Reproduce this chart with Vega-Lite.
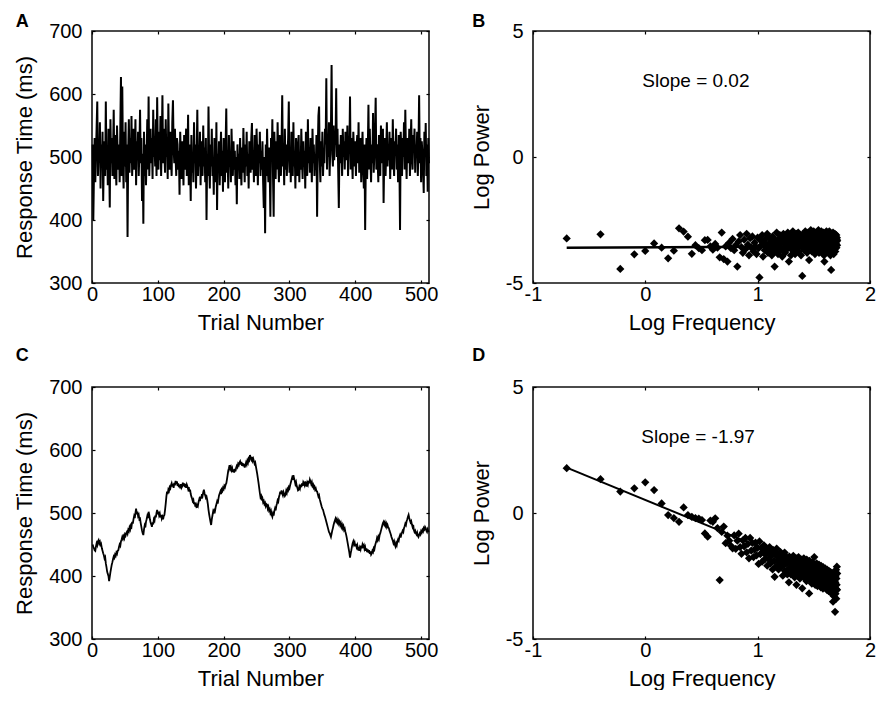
{
"$schema":"https://vega.github.io/schema/vega-lite/v6.json",
"background":"white",
"padding":{"left":12,"top":12,"right":0,"bottom":0},
"bounds":"flush",
"columns":2,
"spacing":104,
"datasets":{
"ts":[
{"t":1,"a":520,"c":450},{"t":2,"a":400,"c":446},{"t":3,"a":475,"c":444},{"t":4,"a":530,"c":441},{"t":5,"a":460,"c":440},{"t":6,"a":505,"c":447},{"t":7,"a":545,"c":452},{"t":8,"a":588,"c":449},{"t":9,"a":470,"c":455},{"t":10,"a":510,"c":457},
{"t":11,"a":495,"c":452},{"t":12,"a":555,"c":454},{"t":13,"a":450,"c":447},{"t":14,"a":520,"c":450},{"t":15,"a":485,"c":444},{"t":16,"a":540,"c":440},{"t":17,"a":430,"c":436},{"t":18,"a":500,"c":433},{"t":19,"a":525,"c":428},{"t":20,"a":470,"c":430},
{"t":21,"a":588,"c":420},{"t":22,"a":480,"c":414},{"t":23,"a":515,"c":407},{"t":24,"a":455,"c":403},{"t":25,"a":545,"c":400},{"t":26,"a":500,"c":392},{"t":27,"a":420,"c":399},{"t":28,"a":560,"c":406},{"t":29,"a":490,"c":412},{"t":30,"a":530,"c":418},
{"t":31,"a":470,"c":422},{"t":32,"a":510,"c":427},{"t":33,"a":575,"c":431},{"t":34,"a":465,"c":429},{"t":35,"a":535,"c":434},{"t":36,"a":490,"c":432},{"t":37,"a":455,"c":437},{"t":38,"a":550,"c":435},{"t":39,"a":505,"c":440},{"t":40,"a":480,"c":441},
{"t":41,"a":520,"c":446},{"t":42,"a":460,"c":450},{"t":43,"a":545,"c":448},{"t":44,"a":627,"c":455},{"t":45,"a":470,"c":458},{"t":46,"a":612,"c":462},{"t":47,"a":500,"c":459},{"t":48,"a":450,"c":463},{"t":49,"a":540,"c":460},{"t":50,"a":485,"c":466},
{"t":51,"a":555,"c":464},{"t":52,"a":460,"c":468},{"t":53,"a":520,"c":470},{"t":54,"a":373,"c":467},{"t":55,"a":510,"c":473},{"t":56,"a":560,"c":471},{"t":57,"a":475,"c":477},{"t":58,"a":530,"c":474},{"t":59,"a":490,"c":480},{"t":60,"a":565,"c":478},
{"t":61,"a":470,"c":486},{"t":62,"a":515,"c":483},{"t":63,"a":545,"c":490},{"t":64,"a":480,"c":495},{"t":65,"a":500,"c":492},{"t":66,"a":560,"c":500},{"t":67,"a":455,"c":507},{"t":68,"a":525,"c":498},{"t":69,"a":495,"c":502},{"t":70,"a":540,"c":495},
{"t":71,"a":470,"c":497},{"t":72,"a":510,"c":490},{"t":73,"a":575,"c":491},{"t":74,"a":490,"c":484},{"t":75,"a":530,"c":478},{"t":76,"a":430,"c":472},{"t":77,"a":505,"c":468},{"t":78,"a":394,"c":465},{"t":79,"a":540,"c":474},{"t":80,"a":470,"c":480},
{"t":81,"a":520,"c":477},{"t":82,"a":455,"c":486},{"t":83,"a":500,"c":490},{"t":84,"a":560,"c":495},{"t":85,"a":480,"c":492},{"t":86,"a":596,"c":502},{"t":87,"a":470,"c":497},{"t":88,"a":515,"c":490},{"t":89,"a":545,"c":485},{"t":90,"a":490,"c":482},
{"t":91,"a":530,"c":478},{"t":92,"a":465,"c":485},{"t":93,"a":575,"c":482},{"t":94,"a":500,"c":490},{"t":95,"a":520,"c":488},{"t":96,"a":485,"c":496},{"t":97,"a":560,"c":493},{"t":98,"a":470,"c":500},{"t":99,"a":595,"c":505},{"t":100,"a":510,"c":498},
{"t":101,"a":480,"c":502},{"t":102,"a":540,"c":496},{"t":103,"a":495,"c":499},{"t":104,"a":565,"c":493},{"t":105,"a":470,"c":497},{"t":106,"a":520,"c":491},{"t":107,"a":598,"c":494},{"t":108,"a":490,"c":490},{"t":109,"a":545,"c":495},{"t":110,"a":505,"c":497},
{"t":111,"a":475,"c":505},{"t":112,"a":560,"c":515},{"t":113,"a":500,"c":526},{"t":114,"a":530,"c":534},{"t":115,"a":465,"c":530},{"t":116,"a":585,"c":537},{"t":117,"a":510,"c":535},{"t":118,"a":480,"c":541},{"t":119,"a":540,"c":539},{"t":120,"a":500,"c":544},
{"t":121,"a":470,"c":547},{"t":122,"a":555,"c":542},{"t":123,"a":590,"c":546},{"t":124,"a":515,"c":540},{"t":125,"a":490,"c":548},{"t":126,"a":545,"c":544},{"t":127,"a":500,"c":551},{"t":128,"a":470,"c":546},{"t":129,"a":530,"c":550},{"t":130,"a":520,"c":543},
{"t":131,"a":480,"c":547},{"t":132,"a":510,"c":541},{"t":133,"a":440,"c":545},{"t":134,"a":540,"c":539},{"t":135,"a":500,"c":546},{"t":136,"a":465,"c":540},{"t":137,"a":525,"c":542},{"t":138,"a":495,"c":548},{"t":139,"a":455,"c":543},{"t":140,"a":535,"c":547},
{"t":141,"a":480,"c":541},{"t":142,"a":510,"c":546},{"t":143,"a":545,"c":540},{"t":144,"a":470,"c":545},{"t":145,"a":500,"c":542},{"t":146,"a":567,"c":538},{"t":147,"a":455,"c":541},{"t":148,"a":520,"c":534},{"t":149,"a":490,"c":537},{"t":150,"a":430,"c":530},
{"t":151,"a":535,"c":526},{"t":152,"a":475,"c":523},{"t":153,"a":505,"c":519},{"t":154,"a":460,"c":521},{"t":155,"a":555,"c":514},{"t":156,"a":490,"c":517},{"t":157,"a":520,"c":510},{"t":158,"a":450,"c":513},{"t":159,"a":500,"c":508},{"t":160,"a":575,"c":515},
{"t":161,"a":470,"c":512},{"t":162,"a":510,"c":518},{"t":163,"a":485,"c":522},{"t":164,"a":540,"c":519},{"t":165,"a":455,"c":526},{"t":166,"a":525,"c":523},{"t":167,"a":495,"c":530},{"t":168,"a":470,"c":527},{"t":169,"a":550,"c":533},{"t":170,"a":485,"c":537},
{"t":171,"a":515,"c":531},{"t":172,"a":460,"c":528},{"t":173,"a":530,"c":524},{"t":174,"a":400,"c":526},{"t":175,"a":505,"c":521},{"t":176,"a":470,"c":514},{"t":177,"a":580,"c":505},{"t":178,"a":490,"c":498},{"t":179,"a":450,"c":492},{"t":180,"a":520,"c":486},
{"t":181,"a":485,"c":481},{"t":182,"a":545,"c":490},{"t":183,"a":470,"c":496},{"t":184,"a":500,"c":502},{"t":185,"a":440,"c":499},{"t":186,"a":530,"c":507},{"t":187,"a":495,"c":504},{"t":188,"a":460,"c":510},{"t":189,"a":555,"c":514},{"t":190,"a":416,"c":518},
{"t":191,"a":505,"c":515},{"t":192,"a":480,"c":522},{"t":193,"a":525,"c":528},{"t":194,"a":455,"c":531},{"t":195,"a":500,"c":534},{"t":196,"a":540,"c":530},{"t":197,"a":470,"c":537},{"t":198,"a":510,"c":535},{"t":199,"a":445,"c":540},{"t":200,"a":530,"c":538},
{"t":201,"a":490,"c":543},{"t":202,"a":460,"c":541},{"t":203,"a":520,"c":545},{"t":204,"a":577,"c":547},{"t":205,"a":475,"c":553},{"t":206,"a":505,"c":560},{"t":207,"a":450,"c":567},{"t":208,"a":535,"c":571},{"t":209,"a":485,"c":576},{"t":210,"a":510,"c":570},
{"t":211,"a":460,"c":573},{"t":212,"a":545,"c":568},{"t":213,"a":495,"c":571},{"t":214,"a":470,"c":565},{"t":215,"a":525,"c":569},{"t":216,"a":480,"c":564},{"t":217,"a":510,"c":570},{"t":218,"a":455,"c":566},{"t":219,"a":500,"c":572},{"t":220,"a":425,"c":575},
{"t":221,"a":520,"c":573},{"t":222,"a":480,"c":578},{"t":223,"a":505,"c":576},{"t":224,"a":465,"c":580},{"t":225,"a":530,"c":582},{"t":226,"a":490,"c":577},{"t":227,"a":455,"c":581},{"t":228,"a":515,"c":575},{"t":229,"a":475,"c":579},{"t":230,"a":546,"c":574},
{"t":231,"a":500,"c":578},{"t":232,"a":460,"c":572},{"t":233,"a":520,"c":576},{"t":234,"a":485,"c":580},{"t":235,"a":540,"c":577},{"t":236,"a":470,"c":583},{"t":237,"a":505,"c":580},{"t":238,"a":450,"c":586},{"t":239,"a":525,"c":584},{"t":240,"a":490,"c":592},
{"t":241,"a":475,"c":588},{"t":242,"a":530,"c":585},{"t":243,"a":554,"c":589},{"t":244,"a":480,"c":583},{"t":245,"a":510,"c":586},{"t":246,"a":460,"c":582},{"t":247,"a":535,"c":578},{"t":248,"a":495,"c":580},{"t":249,"a":470,"c":574},{"t":250,"a":545,"c":568},
{"t":251,"a":505,"c":562},{"t":252,"a":455,"c":555},{"t":253,"a":520,"c":548},{"t":254,"a":490,"c":540},{"t":255,"a":540,"c":532},{"t":256,"a":470,"c":525},{"t":257,"a":510,"c":527},{"t":258,"a":480,"c":520},{"t":259,"a":525,"c":523},{"t":260,"a":460,"c":517},
{"t":261,"a":419,"c":519},{"t":262,"a":500,"c":514},{"t":263,"a":379,"c":516},{"t":264,"a":520,"c":511},{"t":265,"a":470,"c":514},{"t":266,"a":545,"c":513},{"t":267,"a":490,"c":507},{"t":268,"a":460,"c":510},{"t":269,"a":515,"c":504},{"t":270,"a":480,"c":506},
{"t":271,"a":405,"c":500},{"t":272,"a":530,"c":503},{"t":273,"a":495,"c":497},{"t":274,"a":560,"c":494},{"t":275,"a":470,"c":499},{"t":276,"a":405,"c":496},{"t":277,"a":540,"c":503},{"t":278,"a":500,"c":507},{"t":279,"a":465,"c":504},{"t":280,"a":525,"c":511},
{"t":281,"a":480,"c":515},{"t":282,"a":555,"c":520},{"t":283,"a":495,"c":518},{"t":284,"a":460,"c":525},{"t":285,"a":535,"c":529},{"t":286,"a":505,"c":534},{"t":287,"a":470,"c":530},{"t":288,"a":520,"c":536},{"t":289,"a":598,"c":531},{"t":290,"a":485,"c":528},
{"t":291,"a":510,"c":533},{"t":292,"a":455,"c":530},{"t":293,"a":545,"c":527},{"t":294,"a":480,"c":529},{"t":295,"a":520,"c":535},{"t":296,"a":470,"c":532},{"t":297,"a":500,"c":538},{"t":298,"a":530,"c":536},{"t":299,"a":588,"c":541},{"t":300,"a":475,"c":539},
{"t":301,"a":515,"c":544},{"t":302,"a":460,"c":548},{"t":303,"a":540,"c":552},{"t":304,"a":495,"c":556},{"t":305,"a":470,"c":553},{"t":306,"a":555,"c":560},{"t":307,"a":485,"c":555},{"t":308,"a":510,"c":551},{"t":309,"a":450,"c":546},{"t":310,"a":530,"c":549},
{"t":311,"a":490,"c":543},{"t":312,"a":470,"c":540},{"t":313,"a":520,"c":536},{"t":314,"a":535,"c":537},{"t":315,"a":460,"c":542},{"t":316,"a":505,"c":539},{"t":317,"a":480,"c":545},{"t":318,"a":545,"c":541},{"t":319,"a":495,"c":547},{"t":320,"a":465,"c":543},
{"t":321,"a":525,"c":549},{"t":322,"a":485,"c":547},{"t":323,"a":510,"c":544},{"t":324,"a":450,"c":550},{"t":325,"a":540,"c":546},{"t":326,"a":500,"c":542},{"t":327,"a":470,"c":548},{"t":328,"a":560,"c":545},{"t":329,"a":490,"c":551},{"t":330,"a":515,"c":547},
{"t":331,"a":475,"c":553},{"t":332,"a":530,"c":550},{"t":333,"a":500,"c":546},{"t":334,"a":460,"c":549},{"t":335,"a":545,"c":543},{"t":336,"a":490,"c":545},{"t":337,"a":520,"c":540},{"t":338,"a":470,"c":542},{"t":339,"a":505,"c":537},{"t":340,"a":480,"c":539},
{"t":341,"a":535,"c":535},{"t":342,"a":405,"c":534},{"t":343,"a":510,"c":530},{"t":344,"a":565,"c":526},{"t":345,"a":580,"c":528},{"t":346,"a":495,"c":522},{"t":347,"a":460,"c":518},{"t":348,"a":525,"c":514},{"t":349,"a":485,"c":510},{"t":350,"a":540,"c":507},
{"t":351,"a":470,"c":505},{"t":352,"a":510,"c":501},{"t":353,"a":490,"c":497},{"t":354,"a":545,"c":494},{"t":355,"a":520,"c":490},{"t":356,"a":625,"c":486},{"t":357,"a":480,"c":482},{"t":358,"a":530,"c":478},{"t":359,"a":500,"c":474},{"t":360,"a":555,"c":470},
{"t":361,"a":470,"c":468},{"t":362,"a":515,"c":465},{"t":363,"a":540,"c":462},{"t":364,"a":646,"c":467},{"t":365,"a":505,"c":472},{"t":366,"a":485,"c":476},{"t":367,"a":550,"c":481},{"t":368,"a":495,"c":485},{"t":369,"a":530,"c":488},{"t":370,"a":520,"c":491},
{"t":371,"a":609,"c":487},{"t":372,"a":500,"c":490},{"t":373,"a":545,"c":485},{"t":374,"a":480,"c":488},{"t":375,"a":419,"c":483},{"t":376,"a":520,"c":486},{"t":377,"a":490,"c":481},{"t":378,"a":535,"c":484},{"t":379,"a":510,"c":478},{"t":380,"a":470,"c":481},
{"t":381,"a":545,"c":476},{"t":382,"a":500,"c":479},{"t":383,"a":525,"c":473},{"t":384,"a":480,"c":475},{"t":385,"a":540,"c":470},{"t":386,"a":510,"c":466},{"t":387,"a":495,"c":461},{"t":388,"a":550,"c":455},{"t":389,"a":470,"c":449},{"t":390,"a":520,"c":443},
{"t":391,"a":505,"c":437},{"t":392,"a":596,"c":429},{"t":393,"a":480,"c":436},{"t":394,"a":530,"c":441},{"t":395,"a":500,"c":447},{"t":396,"a":465,"c":452},{"t":397,"a":540,"c":455},{"t":398,"a":510,"c":450},{"t":399,"a":485,"c":453},{"t":400,"a":525,"c":447},
{"t":401,"a":470,"c":451},{"t":402,"a":515,"c":446},{"t":403,"a":535,"c":449},{"t":404,"a":490,"c":443},{"t":405,"a":555,"c":444},{"t":406,"a":475,"c":440},{"t":407,"a":510,"c":445},{"t":408,"a":530,"c":442},{"t":409,"a":460,"c":448},{"t":410,"a":500,"c":444},
{"t":411,"a":540,"c":450},{"t":412,"a":485,"c":447},{"t":413,"a":450,"c":449},{"t":414,"a":520,"c":443},{"t":415,"a":384,"c":446},{"t":416,"a":495,"c":440},{"t":417,"a":530,"c":444},{"t":418,"a":465,"c":438},{"t":419,"a":510,"c":442},{"t":420,"a":583,"c":437},
{"t":421,"a":480,"c":441},{"t":422,"a":545,"c":435},{"t":423,"a":500,"c":439},{"t":424,"a":460,"c":434},{"t":425,"a":520,"c":436},{"t":426,"a":490,"c":440},{"t":427,"a":570,"c":438},{"t":428,"a":475,"c":444},{"t":429,"a":505,"c":442},{"t":430,"a":540,"c":448},
{"t":431,"a":594,"c":452},{"t":432,"a":480,"c":455},{"t":433,"a":520,"c":460},{"t":434,"a":495,"c":457},{"t":435,"a":460,"c":462},{"t":436,"a":535,"c":459},{"t":437,"a":505,"c":465},{"t":438,"a":470,"c":468},{"t":439,"a":550,"c":472},{"t":440,"a":490,"c":476},
{"t":441,"a":515,"c":480},{"t":442,"a":545,"c":484},{"t":443,"a":427,"c":486},{"t":444,"a":500,"c":482},{"t":445,"a":530,"c":485},{"t":446,"a":470,"c":480},{"t":447,"a":510,"c":483},{"t":448,"a":555,"c":478},{"t":449,"a":485,"c":481},{"t":450,"a":520,"c":477},
{"t":451,"a":495,"c":476},{"t":452,"a":540,"c":472},{"t":453,"a":465,"c":469},{"t":454,"a":510,"c":466},{"t":455,"a":530,"c":462},{"t":456,"a":480,"c":459},{"t":457,"a":560,"c":456},{"t":458,"a":500,"c":452},{"t":459,"a":470,"c":455},{"t":460,"a":525,"c":450},
{"t":461,"a":505,"c":447},{"t":462,"a":545,"c":452},{"t":463,"a":480,"c":449},{"t":464,"a":520,"c":455},{"t":465,"a":460,"c":458},{"t":466,"a":535,"c":456},{"t":467,"a":495,"c":462},{"t":468,"a":384,"c":465},{"t":469,"a":540,"c":461},{"t":470,"a":510,"c":466},
{"t":471,"a":470,"c":469},{"t":472,"a":530,"c":472},{"t":473,"a":500,"c":470},{"t":474,"a":555,"c":476},{"t":475,"a":480,"c":479},{"t":476,"a":575,"c":483},{"t":477,"a":505,"c":481},{"t":478,"a":465,"c":487},{"t":479,"a":530,"c":490},{"t":480,"a":520,"c":494},
{"t":481,"a":490,"c":497},{"t":482,"a":545,"c":492},{"t":483,"a":470,"c":488},{"t":484,"a":515,"c":485},{"t":485,"a":560,"c":487},{"t":486,"a":500,"c":482},{"t":487,"a":480,"c":478},{"t":488,"a":535,"c":481},{"t":489,"a":510,"c":473},{"t":490,"a":545,"c":470},
{"t":491,"a":475,"c":472},{"t":492,"a":520,"c":468},{"t":493,"a":500,"c":466},{"t":494,"a":540,"c":469},{"t":495,"a":470,"c":464},{"t":496,"a":515,"c":462},{"t":497,"a":598,"c":465},{"t":498,"a":490,"c":468},{"t":499,"a":530,"c":466},{"t":500,"a":460,"c":471},
{"t":501,"a":525,"c":469},{"t":502,"a":505,"c":473},{"t":503,"a":480,"c":471},{"t":504,"a":443,"c":476},{"t":505,"a":540,"c":474},{"t":506,"a":500,"c":478},{"t":507,"a":554,"c":476},{"t":508,"a":470,"c":472},{"t":509,"a":520,"c":470},{"t":510,"a":445,"c":474},
{"t":511,"a":530,"c":471},{"t":512,"a":490,"c":470}
],
"sp":[
{"x":-0.700,"b":-3.23,"d":1.78},{"x":-0.399,"b":-3.07,"d":1.34},{"x":-0.223,"b":-4.44,"d":0.85},{"x":-0.098,"b":-3.86,"d":0.98},{"x":-0.001,"b":-3.73,"d":1.22},{"x":0.078,"b":-3.43,"d":0.91},{"x":0.145,"b":-3.60,"d":0.38},{"x":0.203,"b":-4.02,"d":-0.08},{"x":0.254,"b":-3.72,"d":-0.20},{"x":0.300,"b":-2.83,"d":-0.35},
{"x":0.341,"b":-2.96,"d":0.22},{"x":0.379,"b":-3.16,"d":-0.08},{"x":0.414,"b":-3.84,"d":-0.15},{"x":0.446,"b":-3.50,"d":-0.20},{"x":0.476,"b":-3.62,"d":-0.22},{"x":0.504,"b":-3.70,"d":-0.28},{"x":0.530,"b":-3.30,"d":-0.81},{"x":0.555,"b":-3.29,"d":-0.94},{"x":0.579,"b":-3.55,"d":-0.30},{"x":0.601,"b":-3.68,"d":-0.35},
{"x":0.622,"b":-3.45,"d":-0.21},{"x":0.642,"b":-3.60,"d":-0.60},{"x":0.662,"b":-3.98,"d":-2.66},{"x":0.680,"b":-3.00,"d":-0.75},{"x":0.698,"b":-4.05,"d":-0.54},{"x":0.715,"b":-3.55,"d":-1.20},{"x":0.731,"b":-4.15,"d":-0.90},{"x":0.747,"b":-3.40,"d":-1.10},{"x":0.762,"b":-3.62,"d":-1.30},{"x":0.777,"b":-3.25,"d":-1.40},
{"x":0.791,"b":-3.70,"d":-0.89},{"x":0.805,"b":-3.50,"d":-1.42},{"x":0.819,"b":-4.35,"d":-1.10},{"x":0.831,"b":-3.35,"d":-0.82},{"x":0.844,"b":-3.10,"d":-1.35},{"x":0.856,"b":-3.58,"d":-1.62},{"x":0.868,"b":-3.80,"d":-1.09},{"x":0.880,"b":-3.28,"d":-1.32},{"x":0.891,"b":-3.66,"d":-0.99},{"x":0.902,"b":-3.05,"d":-1.56},
{"x":0.913,"b":-3.48,"d":-1.23},{"x":0.923,"b":-3.90,"d":-1.80},{"x":0.933,"b":-3.22,"d":-0.99},{"x":0.943,"b":-3.60,"d":-1.49},{"x":0.953,"b":-3.15,"d":-1.19},{"x":0.963,"b":-3.75,"d":-1.75},{"x":0.972,"b":-3.40,"d":-1.45},{"x":0.981,"b":-3.55,"d":-1.18},{"x":0.990,"b":-3.85,"d":-1.68},{"x":0.999,"b":-3.20,"d":-1.38},
{"x":1.008,"b":-3.62,"d":-2.02},{"x":1.016,"b":-4.78,"d":-1.13},{"x":1.024,"b":-3.30,"d":-1.63},{"x":1.032,"b":-3.50,"d":-1.38},{"x":1.040,"b":-3.10,"d":-1.93},{"x":1.048,"b":-3.95,"d":-1.54},{"x":1.056,"b":-3.40,"d":-1.28},{"x":1.063,"b":-3.70,"d":-1.84},{"x":1.071,"b":-3.25,"d":-1.66},{"x":1.078,"b":-3.58,"d":-1.40},
{"x":1.085,"b":-3.05,"d":-2.09},{"x":1.092,"b":-3.80,"d":-1.58},{"x":1.099,"b":-3.45,"d":-1.84},{"x":1.106,"b":-3.20,"d":-1.35},{"x":1.113,"b":-3.65,"d":-2.00},{"x":1.120,"b":-3.35,"d":-1.71},{"x":1.126,"b":-3.90,"d":-1.55},{"x":1.133,"b":-3.15,"d":-2.24},{"x":1.139,"b":-3.50,"d":-1.47},{"x":1.145,"b":-3.75,"d":-1.90},
{"x":1.151,"b":-4.35,"d":-2.53},{"x":1.157,"b":-3.30,"d":-1.66},{"x":1.163,"b":-3.60,"d":-2.12},{"x":1.169,"b":-3.00,"d":-1.41},{"x":1.175,"b":-3.45,"d":-1.89},{"x":1.181,"b":-3.85,"d":-1.63},{"x":1.186,"b":-3.25,"d":-2.24},{"x":1.192,"b":-3.55,"d":-1.79},{"x":1.198,"b":-3.10,"d":-2.07},{"x":1.203,"b":-3.70,"d":-1.55},
{"x":1.208,"b":-3.40,"d":-2.16},{"x":1.214,"b":-3.20,"d":-1.92},{"x":1.219,"b":-3.95,"d":-1.65},{"x":1.224,"b":-3.35,"d":-2.49},{"x":1.229,"b":-3.05,"d":-1.83},{"x":1.234,"b":-3.60,"d":-2.06},{"x":1.240,"b":-3.30,"d":-1.57},{"x":1.244,"b":-3.80,"d":-2.30},{"x":1.249,"b":-3.15,"d":-1.81},{"x":1.254,"b":-3.50,"d":-2.00},
{"x":1.259,"b":-3.25,"d":-1.76},{"x":1.264,"b":-3.65,"d":-2.44},{"x":1.268,"b":-3.00,"d":-1.96},{"x":1.273,"b":-3.45,"d":-2.23},{"x":1.278,"b":-4.15,"d":-2.75},{"x":1.282,"b":-3.20,"d":-1.73},{"x":1.287,"b":-3.55,"d":-2.18},{"x":1.291,"b":-3.35,"d":-1.93},{"x":1.296,"b":-3.90,"d":-2.44},{"x":1.300,"b":-3.10,"d":-1.87},
{"x":1.304,"b":-3.40,"d":-2.15},{"x":1.309,"b":-3.70,"d":-2.00},{"x":1.313,"b":-2.95,"d":-2.40},{"x":1.317,"b":-3.30,"d":-1.70},{"x":1.321,"b":-3.60,"d":-2.25},{"x":1.325,"b":-3.15,"d":-2.05},{"x":1.329,"b":-3.50,"d":-2.55},{"x":1.333,"b":-3.85,"d":-1.85},{"x":1.337,"b":-3.20,"d":-2.20},{"x":1.341,"b":-3.45,"d":-2.00},
{"x":1.345,"b":-3.05,"d":-2.85},{"x":1.349,"b":-3.65,"d":-1.80},{"x":1.353,"b":-3.30,"d":-2.30},{"x":1.357,"b":-3.55,"d":-2.10},{"x":1.361,"b":-3.00,"d":-2.45},{"x":1.364,"b":-3.40,"d":-1.75},{"x":1.368,"b":-3.75,"d":-2.20},{"x":1.372,"b":-3.20,"d":-2.00},{"x":1.376,"b":-3.50,"d":-2.60},{"x":1.379,"b":-3.10,"d":-1.90},
{"x":1.383,"b":-3.35,"d":-2.35},{"x":1.386,"b":-3.90,"d":-2.10},{"x":1.390,"b":-3.15,"d":-2.50},{"x":1.393,"b":-3.45,"d":-1.85},{"x":1.397,"b":-4.72,"d":-2.99},{"x":1.400,"b":-3.25,"d":-2.25},{"x":1.404,"b":-3.60,"d":-2.05},{"x":1.407,"b":-3.05,"d":-2.45},{"x":1.411,"b":-3.40,"d":-1.80},{"x":1.414,"b":-3.70,"d":-2.30},
{"x":1.417,"b":-3.20,"d":-2.15},{"x":1.421,"b":-3.50,"d":-2.60},{"x":1.424,"b":-2.95,"d":-1.95},{"x":1.427,"b":-3.35,"d":-2.40},{"x":1.430,"b":-3.65,"d":-2.20},{"x":1.434,"b":-3.10,"d":-2.70},{"x":1.437,"b":-3.45,"d":-1.85},{"x":1.440,"b":-3.80,"d":-2.35},{"x":1.443,"b":-3.25,"d":-2.10},{"x":1.446,"b":-3.55,"d":-2.55},
{"x":1.449,"b":-3.00,"d":-2.00},{"x":1.452,"b":-3.40,"d":-2.45},{"x":1.455,"b":-3.70,"d":-2.25},{"x":1.458,"b":-4.09,"d":-3.19},{"x":1.461,"b":-3.30,"d":-1.90},{"x":1.464,"b":-3.15,"d":-2.40},{"x":1.467,"b":-3.60,"d":-2.15},{"x":1.470,"b":-3.35,"d":-2.65},{"x":1.473,"b":-2.90,"d":-2.05},{"x":1.476,"b":-3.50,"d":-2.50},
{"x":1.479,"b":-3.25,"d":-2.30},{"x":1.482,"b":-3.75,"d":-2.80},{"x":1.485,"b":-3.05,"d":-1.95},{"x":1.488,"b":-3.45,"d":-2.45},{"x":1.490,"b":-3.20,"d":-2.20},{"x":1.493,"b":-3.60,"d":-2.70},{"x":1.496,"b":-3.35,"d":-2.10},{"x":1.499,"b":-2.95,"d":-2.55},{"x":1.501,"b":-3.55,"d":-2.35},{"x":1.504,"b":-3.15,"d":-1.75},
{"x":1.507,"b":-3.40,"d":-2.60},{"x":1.510,"b":-3.85,"d":-2.25},{"x":1.512,"b":-3.10,"d":-2.85},{"x":1.515,"b":-3.30,"d":-2.05},{"x":1.517,"b":-3.65,"d":-2.50},{"x":1.520,"b":-3.00,"d":-2.30},{"x":1.523,"b":-3.45,"d":-2.75},{"x":1.525,"b":-3.25,"d":-2.00},{"x":1.528,"b":-3.70,"d":-2.45},{"x":1.530,"b":-3.05,"d":-2.20},
{"x":1.533,"b":-3.50,"d":-2.90},{"x":1.536,"b":-3.20,"d":-2.10},{"x":1.538,"b":-3.60,"d":-2.55},{"x":1.541,"b":-2.90,"d":-2.35},{"x":1.543,"b":-3.35,"d":-2.80},{"x":1.546,"b":-3.80,"d":-2.05},{"x":1.548,"b":-3.15,"d":-2.50},{"x":1.550,"b":-3.45,"d":-2.25},{"x":1.553,"b":-3.00,"d":-2.70},{"x":1.555,"b":-3.55,"d":-2.15},
{"x":1.558,"b":-3.25,"d":-2.60},{"x":1.560,"b":-3.65,"d":-2.40},{"x":1.562,"b":-3.10,"d":-2.95},{"x":1.565,"b":-3.40,"d":-2.10},{"x":1.567,"b":-2.95,"d":-2.55},{"x":1.570,"b":-3.50,"d":-2.30},{"x":1.572,"b":-3.30,"d":-2.75},{"x":1.574,"b":-3.75,"d":-2.20},{"x":1.576,"b":-3.05,"d":-2.65},{"x":1.579,"b":-3.45,"d":-2.45},
{"x":1.581,"b":-3.20,"d":-3.00},{"x":1.583,"b":-3.60,"d":-2.15},{"x":1.586,"b":-3.35,"d":-2.60},{"x":1.588,"b":-3.00,"d":-2.35},{"x":1.590,"b":-3.90,"d":-2.85},{"x":1.592,"b":-3.25,"d":-2.25},{"x":1.594,"b":-4.15,"d":-2.70},{"x":1.597,"b":-3.50,"d":-2.50},{"x":1.599,"b":-3.10,"d":-2.95},{"x":1.601,"b":-3.40,"d":-2.20},
{"x":1.603,"b":-3.65,"d":-2.65},{"x":1.605,"b":-3.05,"d":-2.40},{"x":1.607,"b":-3.30,"d":-2.90},{"x":1.610,"b":-3.55,"d":-2.30},{"x":1.612,"b":-2.95,"d":-2.75},{"x":1.614,"b":-3.45,"d":-2.50},{"x":1.616,"b":-3.20,"d":-3.05},{"x":1.618,"b":-3.70,"d":-2.25},{"x":1.620,"b":-3.10,"d":-2.70},{"x":1.622,"b":-3.35,"d":-2.45},
{"x":1.624,"b":-3.60,"d":-2.95},{"x":1.626,"b":-3.00,"d":-2.35},{"x":1.628,"b":-3.40,"d":-2.80},{"x":1.630,"b":-3.25,"d":-2.55},{"x":1.632,"b":-3.80,"d":-3.10},{"x":1.634,"b":-3.15,"d":-2.30},{"x":1.636,"b":-3.50,"d":-2.75},{"x":1.638,"b":-2.95,"d":-2.50},{"x":1.640,"b":-3.35,"d":-3.00},{"x":1.642,"b":-3.65,"d":-2.40},
{"x":1.644,"b":-3.10,"d":-2.85},{"x":1.646,"b":-3.45,"d":-2.60},{"x":1.648,"b":-3.90,"d":-3.15},{"x":1.650,"b":-3.20,"d":-2.35},{"x":1.652,"b":-3.55,"d":-2.80},{"x":1.654,"b":-4.48,"d":-2.55},{"x":1.656,"b":-3.30,"d":-3.05},{"x":1.658,"b":-3.05,"d":-2.45},{"x":1.660,"b":-3.60,"d":-2.90},{"x":1.662,"b":-3.40,"d":-2.65},
{"x":1.664,"b":-3.15,"d":-3.20},{"x":1.665,"b":-3.50,"d":-2.40},{"x":1.667,"b":-3.25,"d":-2.85},{"x":1.669,"b":-3.70,"d":-2.60},{"x":1.671,"b":-3.00,"d":-3.52},{"x":1.673,"b":-3.45,"d":-2.50},{"x":1.675,"b":-3.35,"d":-2.95},{"x":1.677,"b":-3.85,"d":-2.70},{"x":1.678,"b":-3.10,"d":-3.30},{"x":1.680,"b":-3.55,"d":-2.45},
{"x":1.682,"b":-3.20,"d":-2.90},{"x":1.684,"b":-3.40,"d":-2.65},{"x":1.686,"b":-3.65,"d":-3.10},{"x":1.687,"b":-3.05,"d":-2.55},{"x":1.689,"b":-3.30,"d":-3.92},{"x":1.691,"b":-3.75,"d":-2.75},{"x":1.693,"b":-3.15,"d":-3.20},{"x":1.694,"b":-3.50,"d":-2.50},{"x":1.696,"b":-3.25,"d":-3.00},{"x":1.698,"b":-3.45,"d":-2.25},
{"x":1.700,"b":-3.10,"d":-3.40},{"x":1.701,"b":-3.60,"d":-2.60},{"x":1.703,"b":-3.35,"d":-2.85},{"x":1.705,"b":-3.20,"d":-2.13},{"x":1.707,"b":-3.50,"d":-3.05},{"x":1.708,"b":-3.30,"d":-2.40}
]
},
"config":{
"font":"Liberation Sans",
"view":{"stroke":"#111111","strokeWidth":1.6},
"axis":{"grid":false,"domain":false,"ticks":true,"tickColor":"black","tickSize":3,"tickWidth":1.2,"offset":-3,"labelFont":"Liberation Sans","labelFontSize":20,"labelColor":"black","titleFont":"Liberation Sans","titleFontSize":22,"titleFontWeight":"normal","titleColor":"black","labelFlush":false,"labelOverlap":false,"labelBound":false},
"axisX":{"labelPadding":1,"titlePadding":8},
"axisY":{"labelPadding":10,"titlePadding":12},
"title":{"font":"Liberation Sans","fontSize":18,"fontWeight":"bold","anchor":"start","frame":"bounds","color":"black"}
},
"concat":[
{
"width":337,"height":252,
"title":{"text":"A","dx":2,"offset":-10},
"layer":[
{"data":{"name":"ts"},"mark":{"type":"line","color":"black","strokeWidth":2},
"encoding":{
"x":{"field":"t","type":"quantitative","scale":{"domain":[0,512],"nice":false,"zero":false},"axis":{"title":"Trial Number","values":[0,100,200,300,400,500],"labelExpr":"datum.value"}},
"y":{"field":"a","type":"quantitative","scale":{"domain":[300,700],"nice":false,"zero":false},"axis":{"title":"Response Time (ms)","values":[300,400,500,600,700],"labelExpr":"datum.value"}}}},
{"data":{"values":[{"t":0,"a":300}]},"mark":{"type":"point","opacity":0},
"encoding":{
"x":{"field":"t","type":"quantitative","axis":{"orient":"top","labels":false,"title":null,"values":[0,100,200,300,400,500]}},
"y":{"field":"a","type":"quantitative","axis":{"orient":"right","labels":false,"title":null,"values":[300,400,500,600,700]}}}}
],
"resolve":{"axis":{"x":"independent","y":"independent"}}
},
{
"width":337,"height":252,
"title":{"text":"B","dx":2,"offset":-10},
"layer":[
{"data":{"name":"sp"},"mark":{"type":"point","shape":"diamond","filled":true,"color":"black","size":68,"opacity":1},
"encoding":{
"x":{"field":"x","type":"quantitative","scale":{"domain":[-1,2],"nice":false,"zero":false},"axis":{"title":"Log Frequency","values":[-1,0,1,2],"labelExpr":"datum.value"}},
"y":{"field":"b","type":"quantitative","scale":{"domain":[-5,5],"nice":false,"zero":false},"axis":{"title":"Log Power","values":[-5,0,5],"labelExpr":"datum.value"}}}},
{"data":{"values":[{"x":-0.7,"b":-3.6},{"x":1.7,"b":-3.55}]},"mark":{"type":"line","color":"black","strokeWidth":2.6},
"encoding":{"x":{"field":"x","type":"quantitative","axis":null},"y":{"field":"b","type":"quantitative","axis":null}}},
{"data":{"values":[{"x":0.45,"b":3,"s":"Slope = 0.02"}]},"mark":{"type":"text","fontSize":19,"color":"black","font":"Liberation Sans"},
"encoding":{"x":{"field":"x","type":"quantitative","axis":null},"y":{"field":"b","type":"quantitative","axis":null},"text":{"field":"s"}}},
{"data":{"values":[{"x":-1,"b":-5}]},"mark":{"type":"point","opacity":0},
"encoding":{
"x":{"field":"x","type":"quantitative","axis":{"orient":"top","labels":false,"title":null,"values":[-1,0,1,2]}},
"y":{"field":"b","type":"quantitative","axis":{"orient":"right","labels":false,"title":null,"values":[-5,0,5]}}}}
],
"resolve":{"axis":{"x":"independent","y":"independent"}}
},
{
"width":337,"height":252,
"title":{"text":"C","dx":2,"offset":12},
"layer":[
{"data":{"name":"ts"},"mark":{"type":"line","color":"black","strokeWidth":1.8},
"encoding":{
"x":{"field":"t","type":"quantitative","scale":{"domain":[0,512],"nice":false,"zero":false},"axis":{"title":"Trial Number","values":[0,100,200,300,400,500],"labelExpr":"datum.value"}},
"y":{"field":"c","type":"quantitative","scale":{"domain":[300,700],"nice":false,"zero":false},"axis":{"title":"Response Time (ms)","values":[300,400,500,600,700],"labelExpr":"datum.value"}}}},
{"data":{"values":[{"t":0,"c":300}]},"mark":{"type":"point","opacity":0},
"encoding":{
"x":{"field":"t","type":"quantitative","axis":{"orient":"top","labels":false,"title":null,"values":[0,100,200,300,400,500]}},
"y":{"field":"c","type":"quantitative","axis":{"orient":"right","labels":false,"title":null,"values":[300,400,500,600,700]}}}}
],
"resolve":{"axis":{"x":"independent","y":"independent"}}
},
{
"width":337,"height":252,
"title":{"text":"D","dx":2,"offset":12},
"layer":[
{"data":{"name":"sp"},"mark":{"type":"point","shape":"diamond","filled":true,"color":"black","size":68,"opacity":1},
"encoding":{
"x":{"field":"x","type":"quantitative","scale":{"domain":[-1,2],"nice":false,"zero":false},"axis":{"title":"Log Frequency","values":[-1,0,1,2],"labelExpr":"datum.value"}},
"y":{"field":"d","type":"quantitative","scale":{"domain":[-5,5],"nice":false,"zero":false},"axis":{"title":"Log Power","values":[-5,0,5],"labelExpr":"datum.value"}}}},
{"data":{"values":[{"x":-0.7,"d":1.8},{"x":1.7,"d":-2.6}]},"mark":{"type":"line","color":"black","strokeWidth":2},
"encoding":{"x":{"field":"x","type":"quantitative","axis":null},"y":{"field":"d","type":"quantitative","axis":null}}},
{"data":{"values":[{"x":0.47,"d":3,"s":"Slope = -1.97"}]},"mark":{"type":"text","fontSize":19,"color":"black","font":"Liberation Sans"},
"encoding":{"x":{"field":"x","type":"quantitative","axis":null},"y":{"field":"d","type":"quantitative","axis":null},"text":{"field":"s"}}},
{"data":{"values":[{"x":-1,"d":-5}]},"mark":{"type":"point","opacity":0},
"encoding":{
"x":{"field":"x","type":"quantitative","axis":{"orient":"top","labels":false,"title":null,"values":[-1,0,1,2]}},
"y":{"field":"d","type":"quantitative","axis":{"orient":"right","labels":false,"title":null,"values":[-5,0,5]}}}}
],
"resolve":{"axis":{"x":"independent","y":"independent"}}
}
]
}
